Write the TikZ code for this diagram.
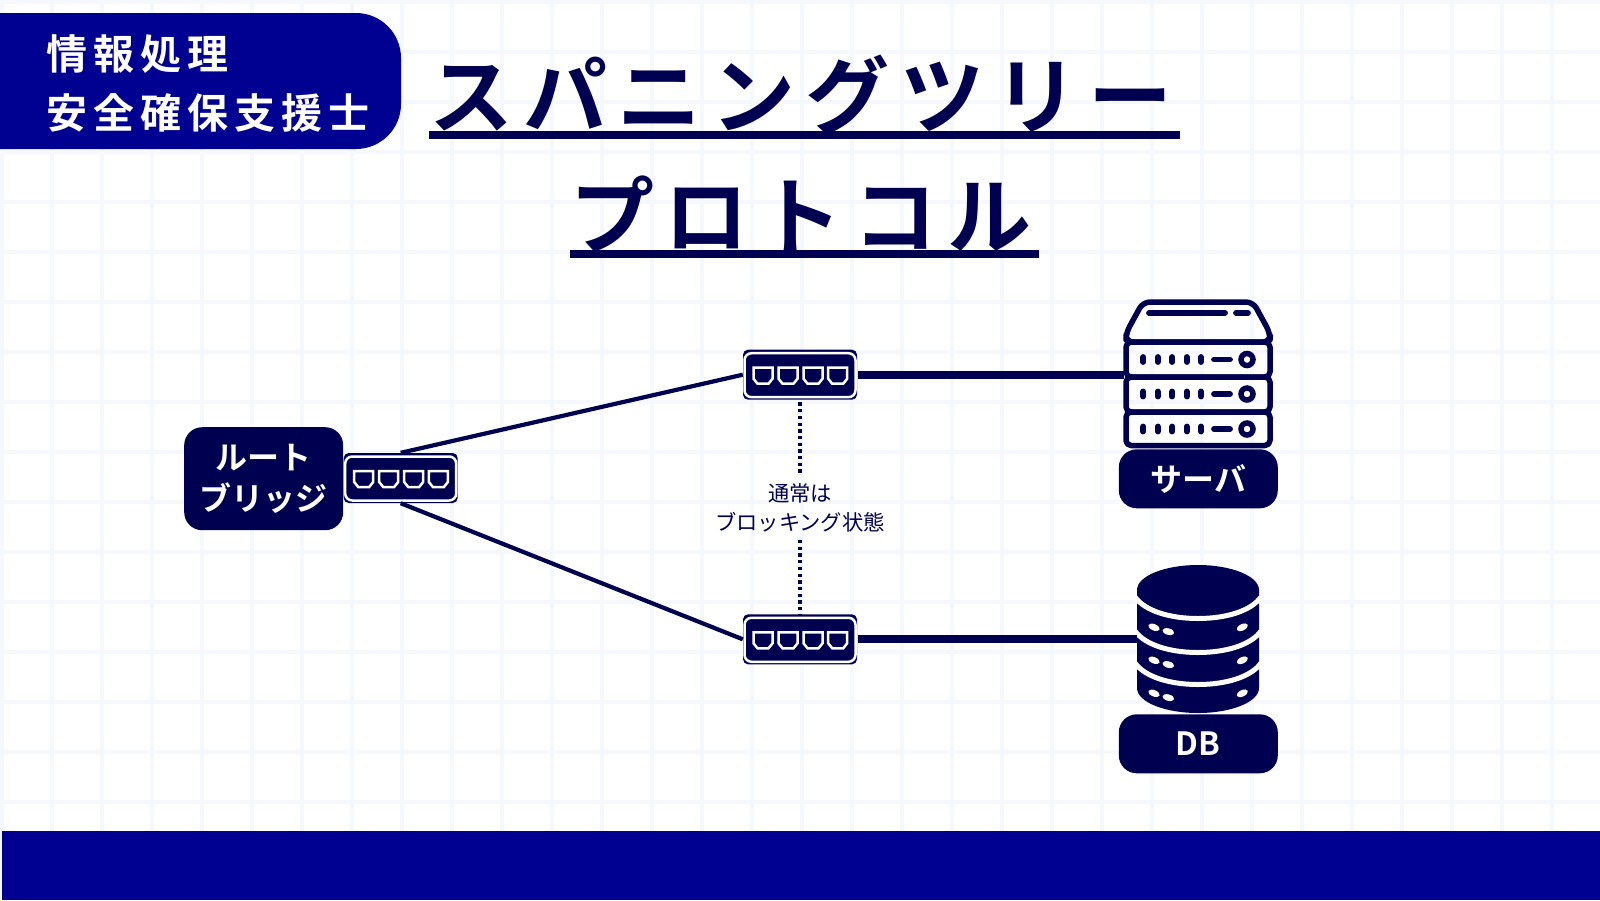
\documentclass[tikz,border=0pt]{standalone}
\usetikzlibrary{calc}
\usepackage{fontspec}
\setmainfont{Noto Sans CJK JP}[BoldFont=* Bold]
\newfontfamily\titlefont{Noto Sans CJK JP}[LetterSpace=12,BoldFont=* Bold]
\newfontfamily\headfont{Noto Sans CJK JP}[LetterSpace=14.6,BoldFont=* Bold]
\definecolor{navy}{HTML}{000050}
\definecolor{band}{HTML}{000091}
\definecolor{gridc}{HTML}{F5F9FD}
\tikzset{
  x=1pt,y=-1pt,
  titletext/.style={inner sep=0pt,text=navy,font=\titlefont\fontsize{84}{90}\selectfont\bfseries},
  headtext/.style={inner sep=0pt,text=white,anchor=west,font=\headfont\fontsize{41}{48}\selectfont\bfseries},
  labelbox/.style={fill=navy,rounded corners=18pt,inner sep=0pt,text=white,align=center,
     font=\fontsize{32}{41.5}\selectfont\bfseries},
  swbody/.style={fill=navy,rounded corners=5pt,minimum width=114pt,minimum height=50pt,inner sep=0pt},
  uline/.style={fill=navy},
  link/.style={draw=navy,line width=4.2pt},
  trunk/.style={draw=navy,line width=8.2pt},
  blocked/.style={draw=navy,line width=4pt,dash pattern=on 3.3pt off 3.4pt},
  srv/.style={draw=navy,line width=5.5pt,rounded corners=5pt,line join=round},
  srvmark/.style={draw=navy,line width=5.8pt,line cap=round},
  switchicon/.pic={
    \node[swbody] (-box) at (0,0) {};
    \draw[white,line width=2.5pt,rounded corners=7pt] (-55.5,-21.5) rectangle (55.5,22.5);
    \foreach \px in {-37,-12,13,37.7}{
      \draw[white,line width=2.5pt,line join=miter] (\px-9.5,-7) -- (\px+9.5,-7) -- (\px+9.5,4) -- (\px+5.5,9) -- (\px-5.5,9) -- (\px-9.5,4) -- cycle;
    }
  },
  srvrow/.pic={
    \foreach \dx in {1143.3,1157.7,1172.3,1186.7,1201}{
      \draw[srvmark] (\dx,-2.5) -- (\dx,2.5);
    }
    \draw[srvmark] (1214,0) -- (1230,0);
    \draw[navy,line width=5.5pt] (1247,0) circle[radius=6];
  },
  dbdots/.pic={
    \fill[white] (1154,0) ellipse[x radius=6,y radius=3.2,rotate=-22];
    \fill[white] (1168.3,4.3) ellipse[x radius=6,y radius=3.2,rotate=-15];
    \fill[white] (1242.3,0) ellipse[x radius=6,y radius=3.2,rotate=25];
  },
}
\begin{document}
\begin{tikzpicture}
\useasboundingbox (0,0) rectangle (1600,900);
\fill[white] (0,0) rectangle (1600,900);
% background grid
\foreach \gx in {2,52,...,1552}{\fill[gridc] (\gx-2,0) rectangle (\gx+2,900);}
\foreach \gy in {2,52,...,802}{\fill[gridc] (0,\gy-2) rectangle (1600,\gy+2);}
% bands
\fill[band] (2.3,830.7) rectangle (1600,900);
\fill[band] (0,149) [sharp corners] -- (0,13) [rounded corners=45pt] -- (401,13) -- (401,149) [sharp corners] -- cycle;
\node[headtext] (head1) at (46,54.5) {情報処理};
\node[headtext] (head2) at (46,112.7) {安全確保支援士};
% title
\node[titletext] (title1) at (801,95) {スパニングツリー};
\node[titletext] (title2) at (801,214.5) {プロトコル};
\fill[uline] (428.5,131) rectangle (1180,139);
\fill[uline] (569.5,250) rectangle (1039,258);
% switches
\pic (sw0) at (400.7,478) {switchicon};
\pic (sw1) at (800,374.7) {switchicon};
\pic (sw2) at (800,639.3) {switchicon};
% root label
\node[labelbox,minimum width=159pt,minimum height=103pt] (root) at (263.7,478.7) {ルート\\ブリッジ};
% server
\begin{scope}
\draw[srv,rounded corners=7pt] (1126,342) -- (1126,333) -- (1143,302) -- (1253,302) -- (1270,333) -- (1270,342) -- cycle;
\draw[srv] (1126,342) rectangle (1270,377);
\draw[srv] (1126,377) rectangle (1270,412);
\draw[srv] (1126,412) rectangle (1270,445.5);
\draw[srvmark] (1149,313) -- (1225,313);
\draw[srvmark] (1236,313) -- (1248,313);
\pic at (0,359.5) {srvrow};
\pic at (0,394) {srvrow};
\pic at (0,429) {srvrow};
\end{scope}
\coordinate (srvport) at (1123.5,374.7);
\node[labelbox,minimum width=159pt,minimum height=59pt] (srvlabel) at (1198.3,478.8) {サーバ};
% database
\fill[navy] (1137,590) -- (1137,688) arc[start angle=180,end angle=0,x radius=61,y radius=25] -- (1259,590) -- cycle;
\foreach \ay in {593,627,659}{
  \draw[white,line width=5pt] (1135,\ay+4) .. controls (1145,\ay+18) and (1170,\ay+25.5) .. (1198,\ay+25.5) .. controls (1226,\ay+25.5) and (1251,\ay+18) .. (1261,\ay+4);
}
\fill[navy] (1198,590) ellipse[x radius=61,y radius=25];
\pic at (0,627.3) {dbdots};
\pic at (0,660.3) {dbdots};
\pic at (0,693.3) {dbdots};
\coordinate (dbport) at (1137,639.3);
\node[labelbox,minimum width=159pt,minimum height=59pt] (dblabel) at (1198.3,743.8) {DB};
% blocked label
\node[inner sep=0pt,text=navy,align=center,minimum height=64pt,minimum width=170pt,font=\fontsize{21.3}{29.5}\selectfont] (note) at (800,507.8) {通常は\\ブロッキング状態};
% connectors
\draw[link] (sw0-box.north) -- (sw1-box.west);
\draw[link] (sw0-box.south) -- (sw2-box.west);
\draw[trunk] (sw1-box.east) ++(0.5,0) -- (srvport);
\draw[trunk] (sw2-box.east) ++(0.5,0) -- (dbport);
\draw[blocked] ($(sw1-box.south)+(0,2.5)$) -- (note.north);
\draw[blocked] (note.south) -- (sw2-box.north);
\end{tikzpicture}
\end{document}
